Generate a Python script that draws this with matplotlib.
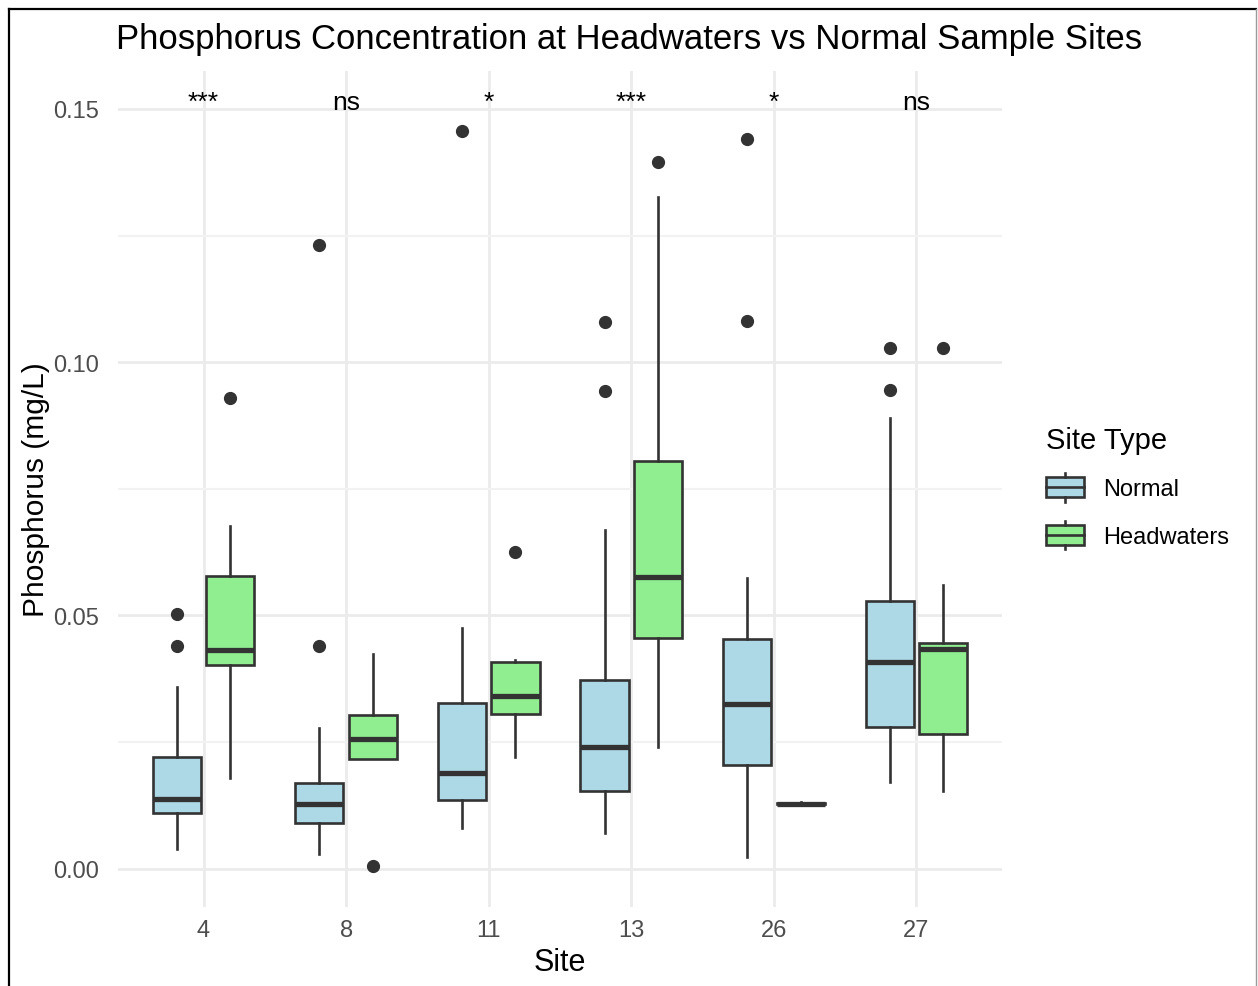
import numpy as np
import matplotlib.pyplot as plt
from matplotlib.legend_handler import HandlerBase
from matplotlib.patches import Rectangle, Patch
from matplotlib.lines import Line2D

# phosphorus boxplots per site
sites = ['4', '8', '11', '13', '26', '27']
signif = ['***', 'ns', '*', '***', '*', 'ns']

# Normal sites: lower whisker, q1, median, q3, upper whisker, outliers
normal_whislo = [0.0039, 0.0028, 0.0080, 0.0070, 0.0022, 0.0170]
normal_q1 = [0.0109, 0.0089, 0.0135, 0.0153, 0.0204, 0.0279]
normal_med = [0.0138, 0.0127, 0.0189, 0.0240, 0.0324, 0.0408]
normal_q3 = [0.0220, 0.0169, 0.0327, 0.0373, 0.0453, 0.0529]
normal_whishi = [0.0359, 0.0278, 0.0475, 0.0668, 0.0574, 0.0889]
normal_out = [[0.0503, 0.0439], [0.1231, 0.0439], [0.1456],
              [0.1080, 0.0944], [0.1440, 0.1081], [0.1027, 0.0945]]

# Headwaters sites
head_whislo = [0.0178, 0.0217, 0.0221, 0.0240, 0.0125, 0.0153]
head_q1 = [0.0401, 0.0217, 0.0306, 0.0455, 0.0127, 0.0266]
head_med = [0.0431, 0.0255, 0.0341, 0.0576, 0.0128, 0.0434]
head_q3 = [0.0578, 0.0303, 0.0407, 0.0804, 0.0129, 0.0446]
head_whishi = [0.0676, 0.0424, 0.0411, 0.1327, 0.0131, 0.0560]
head_out = [[0.0929], [0.0005], [0.0625], [0.1396], [], [0.1027]]

yticks = [0.00, 0.05, 0.10, 0.15]
ytick_labels = ['0.00', '0.05', '0.10', '0.15']

normal_col = '#ADD8E6'
head_col = '#90EE90'
edge = '#333333'
grid_col = '#EBEBEB'

plt.rcParams['font.family'] = ['Liberation Sans', 'DejaVu Sans']

W, H = 1258, 987
fig = plt.figure(figsize=(W / 100, H / 100), dpi=100)
ax = fig.add_axes([118 / W, 1 - 908 / H, (1002 - 118) / W, (908 - 72) / H])


def make_stats(lo, q1, med, q3, hi, out):
    return [dict(whislo=a, q1=b, med=c, q3=d, whishi=e, fliers=f)
            for a, b, c, d, e, f in zip(lo, q1, med, q3, hi, out)]


x = np.arange(1, len(sites) + 1)
dodge = 0.1875
box_w = 0.3375

groups = [
    (make_stats(normal_whislo, normal_q1, normal_med, normal_q3, normal_whishi, normal_out), -dodge, normal_col),
    (make_stats(head_whislo, head_q1, head_med, head_q3, head_whishi, head_out), dodge, head_col),
]
for stats, off, col in groups:
    ax.bxp(stats, positions=x + off, widths=box_w, patch_artist=True,
           showcaps=False, manage_ticks=False,
           boxprops=dict(facecolor=col, edgecolor=edge, linewidth=1.9),
           medianprops=dict(color=edge, linewidth=3.8, solid_capstyle='butt'),
           whiskerprops=dict(color=edge, linewidth=1.9),
           flierprops=dict(marker='o', markerfacecolor=edge, markeredgecolor=edge,
                           markersize=8.5, linestyle='none'),
           zorder=3)

# significance labels above each site
for xi, s in zip(x, signif):
    ax.text(xi, 0.1500, s, ha='center', va='baseline', fontsize=19, color='black', zorder=4)

ax.set_xlim(0.4, 6.6)
ax.set_ylim(-0.0076, 0.1575)
ax.set_xticks(x)
ax.set_xticklabels(sites)
ax.set_yticks(yticks)
ax.set_yticklabels(ytick_labels)
ax.set_yticks([0.025, 0.075, 0.125], minor=True)

for sp in ax.spines.values():
    sp.set_visible(False)
ax.tick_params(axis='both', which='both', length=0, labelsize=17, labelcolor='#4D4D4D')
ax.tick_params(axis='x', pad=9)
ax.tick_params(axis='y', pad=14)
ax.grid(True, which='major', color=grid_col, linewidth=2.0, zorder=0)
ax.grid(True, which='minor', axis='y', color='#F2F2F2', linewidth=1.5, zorder=0)
ax.set_axisbelow(True)

ax.set_xlabel('Site', fontsize=22, labelpad=4)
ax.set_ylabel('Phosphorus (mg/L)', fontsize=21.5, labelpad=2)

fig.text(629 / W, 1 - 40 / H, 'Phosphorus Concentration at Headwaters vs Normal Sample Sites',
         ha='center', va='center', fontsize=25)


class BoxKey(HandlerBase):
    def create_artists(self, legend, orig_handle, xdescent, ydescent, width, height, fontsize, trans):
        x0, y0 = -xdescent, -ydescent
        cx = x0 + width / 2
        rect = Rectangle((x0, y0 + 0.15 * height), width, 0.7 * height,
                         facecolor=orig_handle.get_facecolor(), edgecolor=edge,
                         linewidth=1.9, transform=trans)
        med = Line2D([x0, x0 + width], [y0 + 0.5 * height] * 2, color=edge, linewidth=1.9, transform=trans)
        top = Line2D([cx, cx], [y0 + 0.85 * height, y0 + height], color=edge, linewidth=1.9, transform=trans)
        bot = Line2D([cx, cx], [y0, y0 + 0.15 * height], color=edge, linewidth=1.9, transform=trans)
        return [rect, med, top, bot]


handles = [Patch(facecolor=normal_col), Patch(facecolor=head_col)]
leg = fig.legend(handles, ['Normal', 'Headwaters'], title='Site Type',
                 loc='upper left', bbox_to_anchor=(1046 / W, 1 - 427 / H),
                 frameon=False, fontsize=17, title_fontsize=21,
                 handler_map={Patch: BoxKey()}, handlelength=1.6, handleheight=1.5,
                 handletextpad=0.8, labelspacing=0.8, borderpad=0, borderaxespad=0,
                 alignment='left')

# border of the original screenshot
fig.add_artist(Line2D([8.5 / W, 8.5 / W], [0, 1 - 10 / H], color='black', linewidth=1.6))
fig.add_artist(Line2D([8.5 / W, 1256 / W], [1 - 10 / H, 1 - 10 / H], color='black', linewidth=1.6))
fig.add_artist(Line2D([1256 / W, 1256 / W], [0, 1 - 10 / H], color='#9A9A9A', linewidth=1.0))

fig.savefig('out.png', dpi=100)
